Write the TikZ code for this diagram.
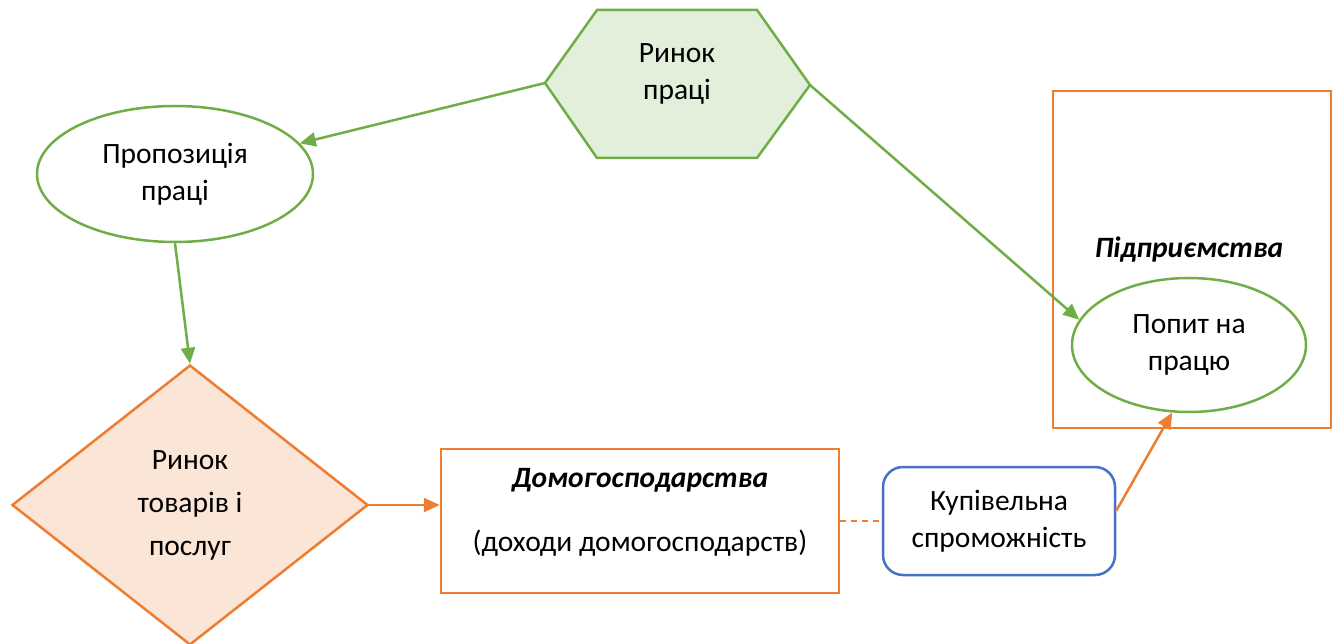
\documentclass[tikz,border=0pt]{standalone}
\usepackage{fontspec}
\setmainfont{Carlito}
\usetikzlibrary{shapes.geometric,arrows.meta}
\definecolor{gline}{HTML}{70AD47}
\definecolor{gfill}{HTML}{E2EFDA}
\definecolor{oline}{HTML}{ED7D31}
\definecolor{ofill}{HTML}{FBE5D6}
\definecolor{bline}{HTML}{4472C4}
\begin{document}
\begin{tikzpicture}[x=1pt,y=-1pt, line width=2.5pt,
  txt/.style={font=\fontsize{29.5}{37}\selectfont, align=center, text=black},
  btxt/.style={font=\fontsize{29.5}{37}\selectfont\bfseries\itshape, text=black},
  tip/.style={-{Triangle[length=16pt,width=14pt]}},
  garrow/.style={draw=gline, tip},
  oarrow/.style={draw=oline, tip},
  gell/.style={ellipse, draw=gline, inner sep=0pt, txt},
  obox/.style={rectangle, draw=oline, inner sep=0pt},
 ]
\useasboundingbox (0,0) rectangle (1336,644);
% hexagon "Ринок праці"
\draw[gline, fill=gfill] (545,83) -- (597,10) -- (757,10) -- (810,85) -- (757,158) -- (597,158) -- cycle;
\coordinate (hexL) at (545,83);
\coordinate (hexR) at (810,85);
\node[txt] (hex) at (677,74) {Ринок\\праці};
% ellipse Пропозиція праці
\node[gell, minimum width=276pt, minimum height=136pt] (prop) at (175,174) {Пропозиція\\праці};
% diamond
\node[diamond, draw=oline, fill=ofill, inner sep=0pt, minimum width=356pt, minimum height=280pt,
      font=\fontsize{29.5}{43}\selectfont, align=center] (dia) at (190,505) {Ринок\\товарів і\\послуг};
% households box
\node[obox, minimum width=398pt, minimum height=144pt] (dom) at (640,521) {};
\node[btxt] (domT) at (640,480) {Домогосподарства};
\node[txt] (domS) at (640,543) {(доходи домогосподарств)};
% purchasing power
\node[rectangle, rounded corners=20pt, draw=bline, inner sep=0pt, minimum width=232pt, minimum height=108pt, txt] (kup) at (999,521) {Купівельна\\спроможність};
% enterprises box
\node[obox, minimum width=278pt, minimum height=337pt] (firm) at (1192,259.5) {};
\node[btxt] (firmT) at (1189,250) {Підприємства};
\node[gell, minimum width=234pt, minimum height=134pt] (pop) at (1189,345) {Попит на\\працю};
% connectors
\draw[garrow] (hexL) -- (prop);
\draw[garrow] (hexR) -- (pop.167);
\draw[garrow] (prop.south) -- (dia.north);
\draw[oarrow] (dia.east) -- (dia.east -| dom.west);
\draw[draw=oline, dash pattern=on 6pt off 5pt] (dom.east) -- (kup.west);
\draw[oarrow] (kup.5) -- (pop.256);
\end{tikzpicture}
\end{document}
